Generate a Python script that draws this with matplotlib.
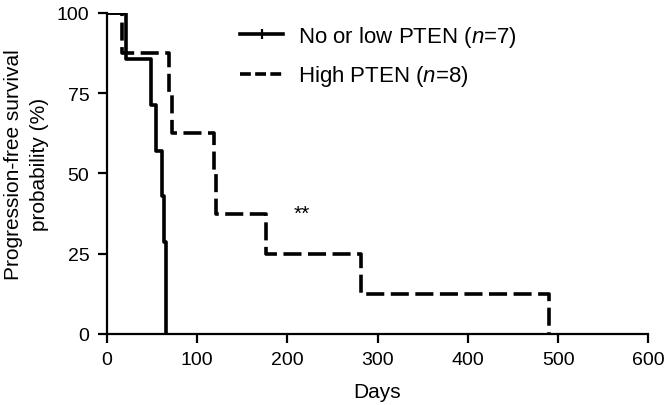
import matplotlib
matplotlib.use("Agg")
import matplotlib.pyplot as plt
from matplotlib.lines import Line2D

plt.rcParams['font.family'] = ['Liberation Sans', 'DejaVu Sans']
plt.rcParams['mathtext.fontset'] = 'custom'
plt.rcParams['mathtext.rm'] = 'Liberation Sans'
plt.rcParams['mathtext.it'] = 'Liberation Sans:italic'

# Data (Kaplan-Meier steps)
low_days = [0, 21, 49, 55, 61, 64, 66]
low_surv = [100, 85.7, 71.4, 57.1, 42.9, 28.6, 0]
high_days = [0, 17, 69, 72, 119, 121, 177, 282, 490]
high_surv = [100, 87.5, 75, 62.5, 50, 37.5, 25, 12.5, 0]
labels = ["No or low PTEN ($\\it{n}$=7)", "High PTEN ($\\it{n}$=8)"]
xticks = [0, 100, 200, 300, 400, 500, 600]
yticks = [0, 25, 50, 75, 100]

fig = plt.figure(figsize=(6.67, 4.06), dpi=100)
ax = fig.add_axes([0.160, 0.175, 0.812, 0.791])

ax.step(low_days, low_surv, where='post', color='black', lw=2.6)
ax.step(high_days, high_surv, where='post', color='black', lw=2.6, dashes=(5, 1.8))

ax.set_xlim(0, 600)
ax.set_ylim(0, 100)
ax.set_xticks(xticks)
ax.set_yticks(yticks)
for s in ['top', 'right']:
    ax.spines[s].set_visible(False)
for s in ['left', 'bottom']:
    ax.spines[s].set_linewidth(1.6)
ax.tick_params(direction='out', length=6.5, width=1.6, labelsize=14, color='black', pad=6)
ax.set_xlabel("Days", fontsize=15, labelpad=10)
ax.set_ylabel("Progression-free survival\nprobability (%)", fontsize=15,
              linespacing=1.45)
ax.yaxis.set_label_coords(-0.107, 0.53)

ax.text(216, 37.5, "**", fontsize=15, ha='center', va='center')

h1 = Line2D([], [], color='black', lw=2.6, marker='|', markersize=7, markeredgewidth=1.6)
h2 = Line2D([], [], color='black', lw=2.6, dashes=(3, 1.2))
leg = ax.legend([h1, h2], labels, loc='upper left',
                bbox_to_anchor=(240 / 667, 1 - 25 / 406),
                bbox_transform=fig.transFigure, frameon=False, fontsize=16,
                handlelength=1.95, handletextpad=0.65, labelspacing=0.65,
                borderpad=0, borderaxespad=0, numpoints=1)

fig.savefig("out.png", dpi=100)
